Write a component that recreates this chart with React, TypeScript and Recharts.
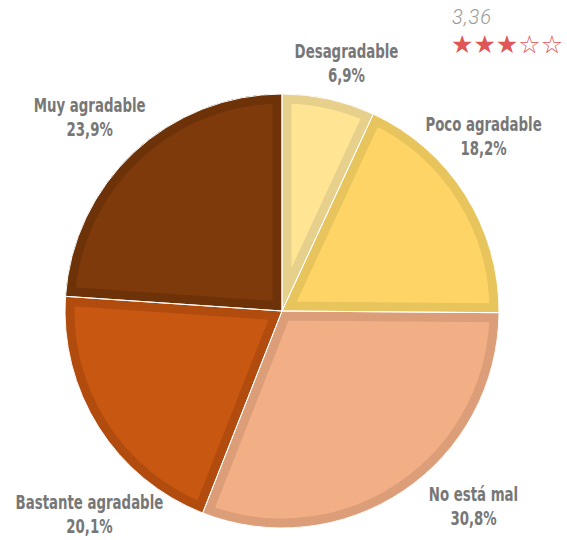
import React from 'react';
import { PieChart, Pie, Cell } from 'recharts';

const categories = ['Desagradable', 'Poco agradable', 'No está mal', 'Bastante agradable', 'Muy agradable'];
const percentages = [6.9, 18.2, 30.8, 20.1, 23.9];
const percentLabels = ['6,9%', '18,2%', '30,8%', '20,1%', '23,9%'];
const ratingText = '3,36';
const filledStars = 3;
const totalStars = 5;

const fills = ['#FFE494', '#FFD466', '#F2AE84', '#C85711', '#7E3A0A'];
const borders = ['#E6D08C', '#E8C45C', '#DC9D79', '#B14C0E', '#6E3209'];

const data = categories.map((name, i) => ({ name, value: percentages[i] }));

const RAD = Math.PI / 180;
const labelNudge = [
  [7, 13],
  [-24, -32],
  [42, -26],
  [33, 60],
  [-10, 1],
];

const renderLabel = (props: any) => {
  const { cx, cy, midAngle, outerRadius, index } = props;
  const r = outerRadius + 50;
  const x = cx + r * Math.cos(-midAngle * RAD) + labelNudge[index][0];
  const y = cy + r * Math.sin(-midAngle * RAD) + labelNudge[index][1];
  return (
    <text
      key={`lbl-${index}`}
      x={x}
      y={y}
      textAnchor="middle"
      fill="#777777"
      fontSize={19}
      fontWeight="bold"
      transform={`translate(${x},0) scale(0.78,1) translate(${-x},0)`}
      style={{ fontFamily: '"Liberation Sans Narrow", "DejaVu Sans Condensed", "Arial Narrow", sans-serif', fontStretch: 'condensed' }}
    >
      <tspan x={x} dy={-5}>{categories[index]}</tspan>
      <tspan x={x} dy={24}>{percentLabels[index]}</tspan>
    </text>
  );
};

export default function App() {
  return (
    <div style={{ position: 'absolute', left: 0, top: 0, width: 567, height: 540, background: '#fff' }}>
      <svg width={0} height={0} style={{ position: 'absolute' }}>
        <defs>
          {categories.map((_, i) => (
            <clipPath id={`cl-${i}`} key={i}>
              <use href={`#sl-${i}`} />
            </clipPath>
          ))}
        </defs>
      </svg>
      <PieChart width={567} height={540} margin={{ top: 0, right: 0, bottom: 0, left: 0 }}>
        <Pie
          data={data}
          dataKey="value"
          nameKey="name"
          cx={282}
          cy={311}
          outerRadius={217}
          startAngle={90}
          endAngle={-270}
          stroke="none"
          isAnimationActive={false}
        >
          {data.map((_, i) => (
            <Cell key={i} id={`sl-${i}`} fill={borders[i]} />
          ))}
        </Pie>
        <Pie
          data={data}
          dataKey="value"
          nameKey="name"
          cx={282}
          cy={311}
          outerRadius={217}
          startAngle={90}
          endAngle={-270}
          isAnimationActive={false}
        >
          {data.map((_, i) => (
            <Cell key={i} fill={fills[i]} stroke={borders[i]} strokeWidth={19} clipPath={`url(#cl-${i})`} />
          ))}
        </Pie>
        <Pie
          data={data}
          dataKey="value"
          nameKey="name"
          cx={282}
          cy={311}
          outerRadius={217}
          startAngle={90}
          endAngle={-270}
          fill="none"
          stroke="#ffffff"
          strokeWidth={1}
          label={renderLabel}
          labelLine={false}
          isAnimationActive={false}
        >
          {data.map((_, i) => (
            <Cell key={i} fill="none" stroke="#ffffff" strokeWidth={1} />
          ))}
        </Pie>
      </PieChart>
      <div
        style={{
          position: 'absolute',
          left: 452,
          top: 5,
          fontFamily: 'Roboto, sans-serif',
          fontStyle: 'italic',
          fontWeight: 300,
          fontSize: 20,
          letterSpacing: 1,
          color: '#9a9a9a',
          lineHeight: '24px',
        }}
      >
        {ratingText}
      </div>
      <div
        style={{
          position: 'absolute',
          left: 451,
          top: 30,
          fontFamily: '"DejaVu Sans", sans-serif',
          fontSize: 25,
          color: '#E05555',
          lineHeight: '29px',
          letterSpacing: 0,
          whiteSpace: 'nowrap',
        }}
      >
        {Array.from({ length: totalStars }, (_, i) => (i < filledStars ? '★' : '☆')).join('')}
      </div>
    </div>
  );
}
